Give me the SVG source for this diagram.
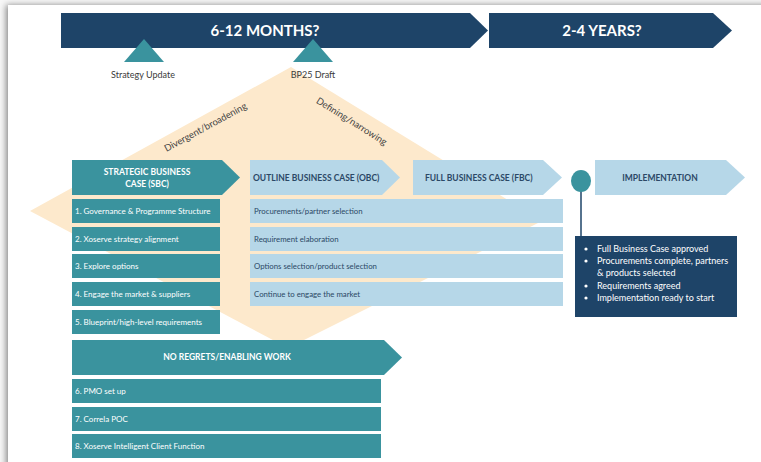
<svg xmlns="http://www.w3.org/2000/svg" width="761" height="462" viewBox="0 0 761 462">
  <defs>
    <filter id="cardShadow" x="-5%" y="-5%" width="110%" height="110%">
      <feGaussianBlur in="SourceAlpha" stdDeviation="3"/>
      <feOffset dx="-2" dy="0" result="b"/>
      <feComponentTransfer><feFuncA type="linear" slope="0.45"/></feComponentTransfer>
      <feMerge><feMergeNode/><feMergeNode in="SourceGraphic"/></feMerge>
    </filter>
    <style>
      text { font-family: Lato, "Open Sans", "Liberation Sans", sans-serif; }
      .navy { fill: #1e4468; }
      .teal { fill: #3a939e; }
      .light { fill: #b6d7e8; }
      .banner { fill: #ffffff; font-size: 15px; font-weight: 700; text-anchor: middle; }
      .hdrW { fill: #ffffff; font-size: 8.5px; font-weight: 700; text-anchor: middle; }
      .hdrD { fill: #2b4866; font-size: 8.5px; font-weight: 700; }
      .itemW { fill: #ffffff; font-size: 8px; }
      .itemD { fill: #2b4866; font-size: 7.8px; }
      .mile { fill: #3a3a3a; font-size: 9px; text-anchor: middle; }
      .diag { fill: #444444; font-size: 9.5px; text-anchor: middle; }
      .bul { fill: #ffffff; font-size: 9px; }
    </style>
  </defs>

  <!-- page card -->
  <rect x="0" y="0" width="761" height="462" fill="#f7f7f7"/>
  <rect x="8" y="5" width="780" height="470" fill="#ffffff" filter="url(#cardShadow)"/>

  <!-- divergent / narrowing diamond (background) -->
  <g id="diamond">
    <polygon points="291,67 542,221 288,348 30,211" fill="#fde9cc"/>
    <text class="diag" transform="translate(207,130) rotate(-28.5)">Divergent/broadening</text>
    <text class="diag" transform="translate(350,124) rotate(32)">Defining/narrowing</text>
  </g>

  <!-- timeline banners -->
  <g id="banner-6-12">
    <polygon class="navy" points="61,13 470,13 488,30.5 470,48 61,48"/>
    <text class="banner" x="265" y="36">6-12 MONTHS?</text>
  </g>
  <g id="banner-2-4">
    <polygon class="navy" points="489,13 713,13 732,30.5 713,48 489,48"/>
    <text class="banner" x="602" y="36">2-4 YEARS?</text>
  </g>

  <!-- milestones -->
  <g id="milestone-strategy">
    <polygon class="teal" points="144,39 164,62 124,62"/>
    <text class="mile" x="143" y="78">Strategy Update</text>
  </g>
  <g id="milestone-bp25">
    <polygon class="teal" points="313,39 333,62 293,62"/>
    <text class="mile" x="313" y="78">BP25 Draft</text>
  </g>

  <!-- stage headers -->
  <g id="sbc">
    <polygon class="teal" points="72,160 222,160 240,177.5 222,195 72,195"/>
    <text class="hdrW" x="147" y="175">STRATEGIC BUSINESS</text>
    <text class="hdrW" x="147" y="187">CASE (SBC)</text>
  </g>
  <g id="obc">
    <polygon class="light" points="250,160 382,160 400,177.5 382,195 250,195"/>
    <text class="hdrD" x="253" y="181">OUTLINE BUSINESS CASE (OBC)</text>
  </g>
  <g id="fbc">
    <polygon class="light" points="413,160 543,160 562,177.5 543,195 413,195"/>
    <text class="hdrD" x="425" y="181">FULL BUSINESS CASE (FBC)</text>
  </g>
  <g id="implementation">
    <polygon class="light" points="595,160 726,160 745,177.5 726,195 595,195"/>
    <text class="hdrD" x="660" y="181" text-anchor="middle">IMPLEMENTATION</text>
  </g>

  <!-- SBC activities -->
  <g id="sbc-items">
    <rect class="teal" x="72" y="199" width="148" height="24"/>
    <text class="itemW" x="75" y="214">1. Governance &amp; Programme Structure</text>
    <rect class="teal" x="72" y="227" width="148" height="24"/>
    <text class="itemW" x="75" y="242">2. Xoserve strategy alignment</text>
    <rect class="teal" x="72" y="254" width="148" height="24"/>
    <text class="itemW" x="75" y="269">3. Explore options</text>
    <rect class="teal" x="72" y="282" width="148" height="24"/>
    <text class="itemW" x="75" y="297">4. Engage the market &amp; suppliers</text>
    <rect class="teal" x="72" y="310" width="148" height="24"/>
    <text class="itemW" x="75" y="325">5. Blueprint/high-level requirements</text>
  </g>

  <!-- OBC / FBC activities -->
  <g id="obc-items">
    <rect class="light" x="250" y="199" width="313" height="24"/>
    <text class="itemD" x="254" y="214">Procurements/partner selection</text>
    <rect class="light" x="250" y="227" width="313" height="24"/>
    <text class="itemD" x="254" y="242">Requirement elaboration</text>
    <rect class="light" x="250" y="254" width="313" height="24"/>
    <text class="itemD" x="254" y="269">Options selection/product selection</text>
    <rect class="light" x="250" y="282" width="313" height="24"/>
    <text class="itemD" x="254" y="297">Continue to engage the market</text>
  </g>

  <!-- gate marker and its outcome box -->
  <g id="connectors">
    <line x1="581" y1="190" x2="581" y2="236" stroke="#1e4468" stroke-width="1.5"/>
  </g>
  <g id="gate">
    <ellipse class="teal" cx="581" cy="181" rx="10" ry="11"/>
  </g>
  <g id="gate-outcomes">
    <rect class="navy" x="575" y="236" width="162" height="81"/>
    <g class="bul">
      <circle cx="586" cy="249" r="1.6" fill="#ffffff"/>
      <text x="597" y="252">Full Business Case approved</text>
      <circle cx="586" cy="261" r="1.6" fill="#ffffff"/>
      <text x="597" y="264">Procurements complete, partners</text>
      <text x="597" y="276">&amp; products selected</text>
      <circle cx="586" cy="286" r="1.6" fill="#ffffff"/>
      <text x="597" y="289">Requirements agreed</text>
      <circle cx="586" cy="298" r="1.6" fill="#ffffff"/>
      <text x="597" y="301">Implementation ready to start</text>
    </g>
  </g>

  <!-- no-regrets workstream -->
  <g id="no-regrets">
    <polygon class="teal" points="72,340 384,340 402,357.5 384,375 72,375"/>
    <text class="hdrW" x="227" y="360">NO REGRETS/ENABLING WORK</text>
  </g>
  <g id="no-regrets-items">
    <rect class="teal" x="72" y="379" width="309" height="24"/>
    <text class="itemW" x="75" y="394">6. PMO set up</text>
    <rect class="teal" x="72" y="407" width="309" height="24"/>
    <text class="itemW" x="75" y="422">7. Correla POC</text>
    <rect class="teal" x="72" y="434" width="309" height="24"/>
    <text class="itemW" x="75" y="449">8. Xoserve Intelligent Client Function</text>
  </g>
</svg>
